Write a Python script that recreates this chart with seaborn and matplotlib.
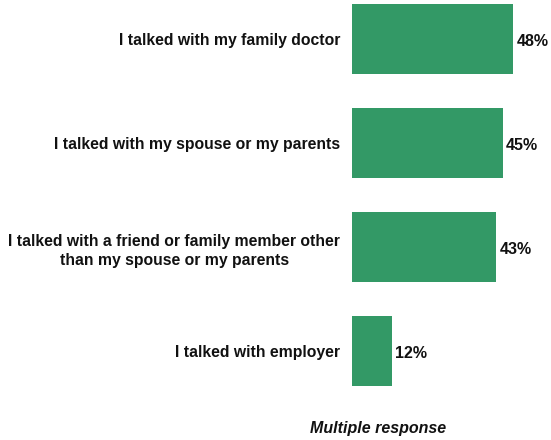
import matplotlib
matplotlib.use("Agg")
import matplotlib.pyplot as plt
import seaborn as sns
import pandas as pd

categories = [
    "I talked with my family doctor",
    "I talked with my spouse or my parents",
    "I talked with a friend or family member other\nthan my spouse or my parents",
    "I talked with employer",
]
values = [48, 45, 43, 12]
value_labels = ["48%", "45%", "43%", "12%"]
note = "Multiple response"

sns.set_theme(style="white")
plt.rcParams["font.family"] = ["Liberation Sans", "DejaVu Sans"]

df = pd.DataFrame({"category": categories, "value": values})

fig = plt.figure(figsize=(5.51, 4.40), dpi=100)
ax = fig.add_axes([352 / 551, 0.0, 1 - 352 / 551, 1.0])

sns.barplot(data=df, x="value", y="category", color="#339966", saturation=1,
            width=0.675, linewidth=0, ax=ax, orient="h")

ax.set_xlim(0, 199 / 3.36)
ax.set_ylim((440 - 39) / 104, -39 / 104)

for i, (v, lab) in enumerate(zip(values, value_labels)):
    ax.text(v + 0.9, i + 0.02, lab, ha="left", va="center", fontsize=11.5,
            fontweight="bold", color="#111111")

ax.set_xlabel("")
ax.set_ylabel("")
ax.set_xticks([])
ax.tick_params(axis="y", length=0, pad=8.5)
for t in ax.get_yticklabels():
    t.set_fontweight("bold")
    t.set_fontsize(11.3)
    t.set_color("#111111")
    t.set_multialignment("center")
    t.set_linespacing(1.35)
for s in ax.spines.values():
    s.set_visible(False)

fig.text(378 / 551, 1 - 428 / 440, note, ha="center", va="center",
         fontsize=11.5, fontweight="bold", fontstyle="italic", color="#111111")

fig.savefig("out.png", dpi=100)
